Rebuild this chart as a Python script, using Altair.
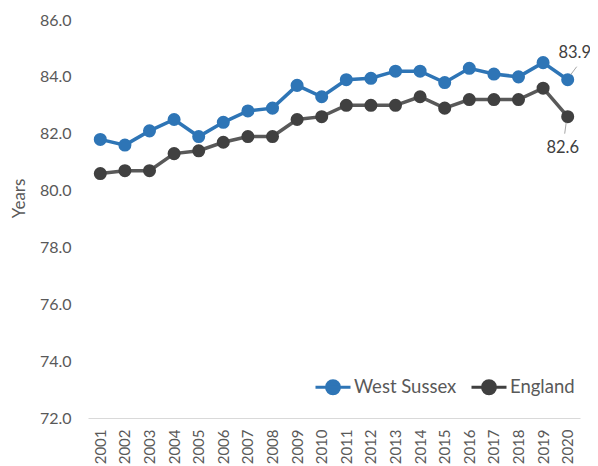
import altair as alt
import pandas as pd

years = [str(y) for y in range(2001, 2021)]
west_sussex = [81.8, 81.6, 82.1, 82.5, 81.9, 82.4, 82.8, 82.9, 83.7, 83.3,
               83.9, 83.95, 84.2, 84.2, 83.8, 84.3, 84.1, 84.0, 84.5, 83.9]
england = [80.6, 80.7, 80.7, 81.3, 81.4, 81.7, 81.9, 81.9, 82.5, 82.6,
           83.0, 83.0, 83.0, 83.3, 82.9, 83.2, 83.2, 83.2, 83.6, 82.6]
series = ["West Sussex", "England"]
colors = ["#2E75B6", "#404040"]
line_colors = ["#2E75B6", "#595959"]

rows = []
for y, a, b in zip(years, west_sussex, england):
    rows.append({"year": y, "series": "West Sussex", "value": a})
    rows.append({"year": y, "series": "England", "value": b})
df = pd.DataFrame(rows)

FONT = "Lato"
x = alt.X("year:O", scale=alt.Scale(type="point", padding=0.5),
          axis=alt.Axis(title=None, labelAngle=270, labelPadding=11, ticks=False,
                        domainColor="#d9d9d9", labelColor="#595959", labelFontSize=15,
                        labelFont=FONT))
y = alt.Y("value:Q", scale=alt.Scale(domain=[72, 86], nice=False, zero=False),
          axis=alt.Axis(title="Years", values=[72, 74, 76, 78, 80, 82, 84, 86], format=".1f",
                        domain=False, ticks=False, grid=False, labelPadding=17,
                        labelColor="#595959", labelFontSize=16, labelFont=FONT,
                        titleColor="#595959", titleFontSize=17, titleFont=FONT,
                        titleFontWeight="normal", titlePadding=11, titleY=178,
                        titleAlign="center"))

legend_path = ("M-1,0 L1,0 M0.37,0 A0.37,0.37 0 1 1 -0.37,0 "
               "A0.37,0.37 0 1 1 0.37,0 Z")

base = alt.Chart(df)
lines = base.mark_line(strokeWidth=3.5).encode(
    x=x, y=y,
    color=alt.Color("series:N", scale=alt.Scale(domain=series, range=line_colors), legend=None),
)
points = base.mark_point(filled=True, size=170, opacity=1, strokeWidth=0).encode(
    x=x, y=y,
    fill=alt.Fill("series:N", scale=alt.Scale(domain=series, range=colors),
                  legend=alt.Legend(title=None, orient="none", legendX=226, legendY=348,
                                    direction="horizontal", symbolType=legend_path,
                                    symbolSize=1225, symbolStrokeWidth=3,
                                    labelFontSize=18.5, labelFont=FONT, labelColor="#595959",
                                    columnPadding=8, labelOffset=2)),
    stroke=alt.Stroke("series:N", scale=alt.Scale(domain=series, range=colors)),
)

last = df[df["year"] == "2020"]
ws_last = last[last["series"] == "West Sussex"]
en_last = last[last["series"] == "England"]

ws_label = alt.Chart(ws_last).mark_text(dx=7, dy=-27, fontSize=16.5, font=FONT, color="#404040").encode(
    x=x, y=y, text=alt.Text("value:Q", format=".1f"))
en_label = alt.Chart(en_last).mark_text(dx=-5, dy=31, fontSize=16.5, font=FONT, color="#404040").encode(
    x=x, y=y, text=alt.Text("value:Q", format=".1f"))
ws_lead = alt.Chart(ws_last).mark_rule(color="#a6a6a6", strokeWidth=1, xOffset=3, yOffset=-5,
                                       x2Offset=9, y2Offset=-13).encode(
    x=x, y=y, x2=alt.X2("year"), y2=alt.Y2("value"))
en_lead = alt.Chart(en_last).mark_rule(color="#a6a6a6", strokeWidth=1, xOffset=-1.5, yOffset=6,
                                       x2Offset=-3, y2Offset=17).encode(
    x=x, y=y, x2=alt.X2("year"), y2=alt.Y2("value"))

chart = alt.layer(lines, points, ws_lead, en_lead, ws_label, en_label).resolve_scale(
    color="independent").properties(
    width=492, height=398,
    padding={"left": 80, "top": 12, "right": 10, "bottom": 48},
    autosize=alt.AutoSizeParams(type="none"),
).configure_view(stroke=None)

chart.save("out.html", embed_options={"renderer": "svg", "actions": False})
